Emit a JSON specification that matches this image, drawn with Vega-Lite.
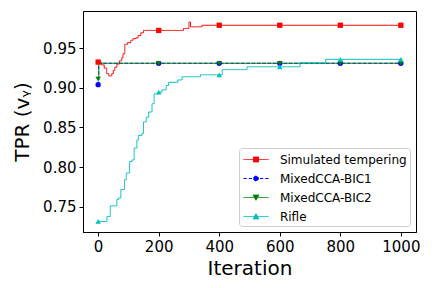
{
  "$schema": "https://vega.github.io/schema/vega-lite/v6.json",
  "width": 333,
  "height": 221,
  "autosize": {"type": "none"},
  "padding": {"left": 83, "top": 11, "right": 16, "bottom": 56},
  "background": "white",
  "data": {
    "values": [
      {"method": "Simulated tempering", "iter": 0, "tpr": 0.9325},
      {"method": "Simulated tempering", "iter": 10, "tpr": 0.929},
      {"method": "Simulated tempering", "iter": 20, "tpr": 0.925},
      {"method": "Simulated tempering", "iter": 28, "tpr": 0.918},
      {"method": "Simulated tempering", "iter": 35, "tpr": 0.915},
      {"method": "Simulated tempering", "iter": 45, "tpr": 0.918},
      {"method": "Simulated tempering", "iter": 50, "tpr": 0.922},
      {"method": "Simulated tempering", "iter": 55, "tpr": 0.926},
      {"method": "Simulated tempering", "iter": 62, "tpr": 0.93},
      {"method": "Simulated tempering", "iter": 70, "tpr": 0.934},
      {"method": "Simulated tempering", "iter": 78, "tpr": 0.938},
      {"method": "Simulated tempering", "iter": 82, "tpr": 0.943},
      {"method": "Simulated tempering", "iter": 88, "tpr": 0.955},
      {"method": "Simulated tempering", "iter": 97, "tpr": 0.957},
      {"method": "Simulated tempering", "iter": 108, "tpr": 0.96},
      {"method": "Simulated tempering", "iter": 115, "tpr": 0.962},
      {"method": "Simulated tempering", "iter": 125, "tpr": 0.963},
      {"method": "Simulated tempering", "iter": 132, "tpr": 0.966},
      {"method": "Simulated tempering", "iter": 141, "tpr": 0.9695},
      {"method": "Simulated tempering", "iter": 150, "tpr": 0.9725},
      {"method": "Simulated tempering", "iter": 200, "tpr": 0.9725},
      {"method": "Simulated tempering", "iter": 282, "tpr": 0.975},
      {"method": "Simulated tempering", "iter": 300, "tpr": 0.983},
      {"method": "Simulated tempering", "iter": 305, "tpr": 0.977},
      {"method": "Simulated tempering", "iter": 343, "tpr": 0.979},
      {"method": "Simulated tempering", "iter": 400, "tpr": 0.979},
      {"method": "Simulated tempering", "iter": 600, "tpr": 0.979},
      {"method": "Simulated tempering", "iter": 800, "tpr": 0.979},
      {"method": "Simulated tempering", "iter": 1000, "tpr": 0.979},
      {"method": "MixedCCA-BIC1", "iter": 0, "tpr": 0.904},
      {"method": "MixedCCA-BIC1", "iter": 2, "tpr": 0.931},
      {"method": "MixedCCA-BIC1", "iter": 200, "tpr": 0.931},
      {"method": "MixedCCA-BIC1", "iter": 400, "tpr": 0.931},
      {"method": "MixedCCA-BIC1", "iter": 600, "tpr": 0.931},
      {"method": "MixedCCA-BIC1", "iter": 800, "tpr": 0.931},
      {"method": "MixedCCA-BIC1", "iter": 1000, "tpr": 0.931},
      {"method": "MixedCCA-BIC2", "iter": 0, "tpr": 0.911},
      {"method": "MixedCCA-BIC2", "iter": 2, "tpr": 0.931},
      {"method": "MixedCCA-BIC2", "iter": 200, "tpr": 0.931},
      {"method": "MixedCCA-BIC2", "iter": 400, "tpr": 0.931},
      {"method": "MixedCCA-BIC2", "iter": 600, "tpr": 0.931},
      {"method": "MixedCCA-BIC2", "iter": 800, "tpr": 0.931},
      {"method": "MixedCCA-BIC2", "iter": 1000, "tpr": 0.931},
      {"method": "Rifle", "iter": 0, "tpr": 0.7313},
      {"method": "Rifle", "iter": 29, "tpr": 0.7375},
      {"method": "Rifle", "iter": 40, "tpr": 0.751},
      {"method": "Rifle", "iter": 62, "tpr": 0.759},
      {"method": "Rifle", "iter": 67, "tpr": 0.761},
      {"method": "Rifle", "iter": 75, "tpr": 0.7716},
      {"method": "Rifle", "iter": 87, "tpr": 0.784},
      {"method": "Rifle", "iter": 93, "tpr": 0.7925},
      {"method": "Rifle", "iter": 104, "tpr": 0.807},
      {"method": "Rifle", "iter": 112, "tpr": 0.809},
      {"method": "Rifle", "iter": 119, "tpr": 0.824},
      {"method": "Rifle", "iter": 128, "tpr": 0.834},
      {"method": "Rifle", "iter": 133, "tpr": 0.84},
      {"method": "Rifle", "iter": 145, "tpr": 0.8425},
      {"method": "Rifle", "iter": 150, "tpr": 0.857},
      {"method": "Rifle", "iter": 159, "tpr": 0.863},
      {"method": "Rifle", "iter": 167, "tpr": 0.8695},
      {"method": "Rifle", "iter": 178, "tpr": 0.88},
      {"method": "Rifle", "iter": 185, "tpr": 0.8925},
      {"method": "Rifle", "iter": 200, "tpr": 0.8945},
      {"method": "Rifle", "iter": 211, "tpr": 0.8975},
      {"method": "Rifle", "iter": 225, "tpr": 0.903},
      {"method": "Rifle", "iter": 233, "tpr": 0.907},
      {"method": "Rifle", "iter": 263, "tpr": 0.91},
      {"method": "Rifle", "iter": 277, "tpr": 0.914},
      {"method": "Rifle", "iter": 338, "tpr": 0.9165},
      {"method": "Rifle", "iter": 400, "tpr": 0.9165},
      {"method": "Rifle", "iter": 410, "tpr": 0.923},
      {"method": "Rifle", "iter": 492, "tpr": 0.9266},
      {"method": "Rifle", "iter": 600, "tpr": 0.9266},
      {"method": "Rifle", "iter": 667, "tpr": 0.9316},
      {"method": "Rifle", "iter": 752, "tpr": 0.936},
      {"method": "Rifle", "iter": 800, "tpr": 0.936},
      {"method": "Rifle", "iter": 1000, "tpr": 0.936}
    ]
  },
  "encoding": {
    "x": {
      "field": "iter", "type": "quantitative", "title": "Iteration",
      "scale": {"domain": [-50, 1050], "nice": false, "zero": false},
      "axis": {"values": [0, 200, 400, 600, 800, 1000], "format": "d"}
    },
    "y": {
      "field": "tpr", "type": "quantitative", "title": "TPR (vᵧ)",
      "scale": {"domain": [0.718, 0.997], "nice": false, "zero": false},
      "axis": {"values": [0.75, 0.8, 0.85, 0.9, 0.95], "format": ".2f"}
    },
    "color": {
      "field": "method", "type": "nominal",
      "scale": {
        "domain": ["Simulated tempering", "MixedCCA-BIC1", "MixedCCA-BIC2", "Rifle"],
        "range": ["#ff0000", "#0000ff", "#008000", "#00bfbf"]
      },
      "legend": {
        "title": null,
        "orient": "bottom-right",
        "offset": 6,
        "symbolSize": 256,
        "symbolStrokeWidth": 1,
        "labelOffset": 15.4,
        "symbolOffset": 5.5,
        "encode": {
          "symbols": {
            "update": {
              "shape": {"signal": "datum.value === 'Simulated tempering' ? 'M-1.5625,0H1.5625M-0.31,-0.31H0.31V0.31H-0.31Z' : datum.value === 'MixedCCA-BIC1' ? 'M-1.5625,0H-1.15M-0.9,0H-0.5M-0.25,0H0.25M0.5,0H0.9M1.15,0H1.5625M-0.3,0A0.3,0.3,0,1,0,0.3,0A0.3,0.3,0,1,0,-0.3,0Z' : datum.value === 'MixedCCA-BIC2' ? 'M-1.5625,0H1.5625M-0.36,-0.3L0.36,-0.3L0,0.34Z' : 'M-1.5625,0H1.5625M-0.36,0.3L0.36,0.3L0,-0.34Z'"},
              "fill": {"signal": "datum.value === 'Simulated tempering' ? '#ff0000' : datum.value === 'MixedCCA-BIC1' ? '#0000ff' : datum.value === 'MixedCCA-BIC2' ? '#008000' : '#00bfbf'"},
              "stroke": {"signal": "datum.value === 'Simulated tempering' ? '#ff0000' : datum.value === 'MixedCCA-BIC1' ? '#0000ff' : datum.value === 'MixedCCA-BIC2' ? '#008000' : '#00bfbf'"},
              "strokeWidth": {"value": 1},
              "strokeDash": {"value": [1, 0]},
              "opacity": {"value": 1},
              "fillOpacity": {"value": 1}
            }
          }
        }
      }
    }
  },
  "layer": [
    {
      "mark": {"type": "line", "interpolate": "step-after", "strokeWidth": 1},
      "encoding": {
        "strokeDash": {
          "field": "method", "type": "nominal",
          "scale": {
            "domain": ["Simulated tempering", "MixedCCA-BIC1", "MixedCCA-BIC2", "Rifle"],
            "range": [[1, 0], [3.7, 1.6], [1, 0], [1, 0]]
          },
          "legend": null
        }
      }
    },
    {
      "transform": [{"filter": "datum.iter % 200 === 0 && datum.method === 'Simulated tempering'"}],
      "mark": {"type": "point", "shape": "square", "filled": true, "size": 28, "opacity": 1, "strokeWidth": 0}
    },
    {
      "transform": [{"filter": "datum.iter % 200 === 0 && datum.method === 'MixedCCA-BIC1'"}],
      "mark": {"type": "point", "shape": "circle", "filled": true, "size": 28, "opacity": 1, "strokeWidth": 0}
    },
    {
      "transform": [{"filter": "datum.iter % 200 === 0 && datum.method === 'MixedCCA-BIC2'"}],
      "mark": {"type": "point", "shape": "triangle-down", "filled": true, "size": 30, "opacity": 1, "strokeWidth": 0}
    },
    {
      "transform": [{"filter": "datum.iter % 200 === 0 && datum.method === 'Rifle'"}],
      "mark": {"type": "point", "shape": "triangle-up", "filled": true, "size": 30, "opacity": 1, "strokeWidth": 0}
    }
  ],
  "config": {
    "font": "DejaVu Sans",
    "view": {"stroke": "#000000", "strokeWidth": 1},
    "axis": {
      "grid": false,
      "domainColor": "#000000",
      "tickColor": "#000000",
      "labelColor": "#000000",
      "titleColor": "#000000",
      "labelFont": "DejaVu Sans",
      "titleFont": "DejaVu Sans",
      "labelFontSize": 15,
      "titleFontSize": 20,
      "titleFontWeight": "normal",
      "tickSize": 4,
      "labelPadding": 3
    },
    "axisX": {"titlePadding": 4},
    "axisY": {"titlePadding": 10},
    "legend": {
      "labelFont": "DejaVu Sans",
      "labelFontSize": 12,
      "labelColor": "#000000",
      "strokeColor": "#cccccc",
      "fillColor": "rgba(255,255,255,0.8)",
      "cornerRadius": 3,
      "padding": 3,
      "rowPadding": 4
    }
  }
}
